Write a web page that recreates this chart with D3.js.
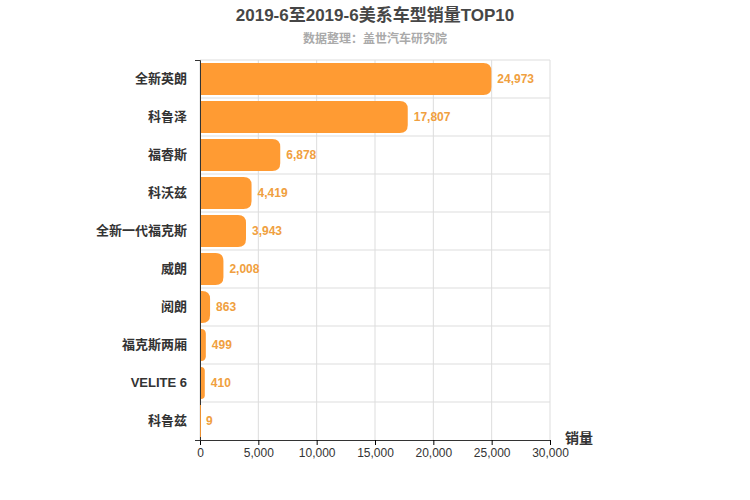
<!DOCTYPE html>
<html>
<head>
<meta charset="utf-8">
<script src="https://d3js.org/d3.v7.min.js"></script>
<style>
  body { margin: 0; font-family: "Liberation Sans", "Noto Sans CJK SC", sans-serif; background: #fff; }
</style>
</head>
<body>
<svg></svg>
<script>
// data
var models = ['全新英朗', '科鲁泽', '福睿斯', '科沃兹', '全新一代福克斯', '威朗', '阅朗', '福克斯两厢', 'VELITE 6', '科鲁兹'];
var sales = [24973, 17807, 6878, 4419, 3943, 2008, 863, 499, 410, 9];
var xTicks = [0, 5000, 10000, 15000, 20000, 25000, 30000];

(function () {
var svg = d3.select('svg').attr('width', 750).attr('height', 500);

var pLeft = 200, pRight = 550, pTop = 60, pBottom = 440;

var x = d3.scaleLinear().domain([0, 30000]).range([pLeft, pRight]);
var y = d3.scaleBand().domain(models).range([pTop, pBottom]);

// title
svg.append('text').attr('x', 375).attr('y', 21).attr('text-anchor', 'middle')
    .style('font-size', '17px').style('font-weight', 'bold').style('fill', '#464646')
    .text('2019-6至2019-6美系车型销量TOP10');
svg.append('text').attr('x', 375).attr('y', 43).attr('text-anchor', 'middle')
    .style('font-size', '12px').style('font-weight', 'bold').style('fill', '#aaa')
    .text('数据整理：盖世汽车研究院');

// grid
svg.selectAll('.vg').data(xTicks).enter().append('line')
    .attr('x1', d => x(d)).attr('x2', d => x(d)).attr('y1', pTop).attr('y2', pBottom)
    .style('stroke', '#ddd');
svg.selectAll('.hg').data(models).enter().append('line')
    .attr('x1', pLeft).attr('x2', pRight)
    .attr('y1', d => y(d)).attr('y2', d => y(d))
    .style('stroke', '#ddd');

// axes
var xAxis = svg.append('g').attr('transform', 'translate(0,' + pBottom + ')')
    .call(d3.axisBottom(x).tickValues(xTicks).tickFormat(d3.format(',')).tickSize(5));
xAxis.selectAll('text').style('font-size', '12px').style('fill', '#333').style('font-family', 'Liberation Sans, sans-serif');
xAxis.select('.domain').style('stroke', '#333');

var yAxis = svg.append('g').attr('transform', 'translate(' + pLeft + ',0)')
    .call(d3.axisLeft(y).tickSize(5).tickPadding(8));
yAxis.selectAll('text').style('font-size', '13px').style('font-weight', 'bold').style('fill', '#333')
    .style('font-family', '"Liberation Sans", "Noto Sans CJK SC", sans-serif');
yAxis.select('.domain').style('stroke', '#333');
yAxis.selectAll('.tick line').remove();

svg.append('text').attr('x', 565).attr('y', 443).style('font-size', '14px')
    .style('font-weight', 'bold').style('fill', '#333').text('销量');

// bars
var bh = y.bandwidth() * 0.84;
svg.selectAll('.bar').data(models).enter().append('path')
    .attr('d', function (d, i) {
        var x0 = x(0) + 1, x1 = x(sales[i]), y0 = y(d) + (y.bandwidth() - bh) / 2;
        var r = Math.min(8, Math.max(0, x1 - x0));
        return 'M' + x0 + ',' + y0 + 'H' + (x1 - r) + 'Q' + x1 + ',' + y0 + ' ' + x1 + ',' + (y0 + r) +
            'V' + (y0 + bh - r) + 'Q' + x1 + ',' + (y0 + bh) + ' ' + (x1 - r) + ',' + (y0 + bh) + 'H' + x0 + 'Z';
    })
    .style('fill', '#ff9b33');

svg.selectAll('.lbl').data(models).enter().append('text')
    .attr('x', (d, i) => x(sales[i]) + 6)
    .attr('y', d => y(d) + y.bandwidth() / 2 + 4)
    .style('font-size', '12px').style('font-weight', 'bold').style('fill', '#f0a040')
    .style('font-family', 'Liberation Sans, sans-serif')
    .text((d, i) => d3.format(',')(sales[i]));
})();
</script>
</body>
</html>
